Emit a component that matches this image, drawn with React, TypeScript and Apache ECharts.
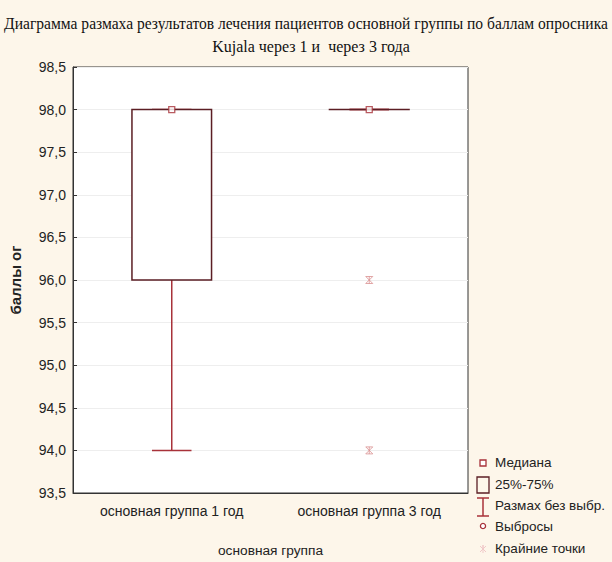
import React, { useEffect, useRef } from "react";
import * as echarts from "echarts";

const titleLines = [
  "Диаграмма размаха результатов лечения пациентов основной группы по баллам опросника",
  "Kujala через 1 и  через 3 года",
];
const categories = ["основная группа 1 год", "основная группа 3 год"];
const whiskerLow = [94, 98];
const quartile1 = [96, 98];
const medians = [98, 98];
const quartile3 = [98, 98];
const whiskerHigh = [98, 98];
// extreme points: [category index, value]
const extremes: [number, number][] = [
  [1, 96],
  [1, 94],
];
const outliers: [number, number][] = [];

const yMin = 93.5;
const yMax = 98.5;
const yStep = 0.5;

const BOX = "#5b1e24";
const WHISK = "#a8323a";
const EXTREME = "#d99090";
const BG = "#fdf6ea";
const FONT = "'Liberation Sans', Arial, sans-serif";
const SERIF = "'Liberation Serif', 'Times New Roman', serif";

const asterisk = "path://M0,0L10,10M10,0L0,10M5,0L5,10M0,0L10,0M0,10L10,10";

export default function App() {
  const ref = useRef<HTMLDivElement>(null);
  useEffect(() => {
    if (!ref.current) return;
    const chart = echarts.init(ref.current, undefined, { renderer: "svg" });
    const boxData = categories.map((_, i) => [
      i,
      whiskerLow[i],
      quartile1[i],
      medians[i],
      quartile3[i],
      whiskerHigh[i],
    ]);
    const medianData = categories.map((_, i) => [i, medians[i]]);

    const legendX = 483;
    const legendText = (y: number, text: string) => ({
      type: "text",
      left: 495,
      top: y - 8,
      style: { text, fontSize: 13.5, fontFamily: FONT, fill: "#222" },
    });

    chart.setOption({
      animation: false,
      backgroundColor: BG,
      grid: {
        left: 71,
        right: 144,
        top: 67,
        bottom: 63,
        show: true,
        backgroundColor: "#ffffff",
        borderColor: "#333",
        borderWidth: 1,
      },
      xAxis: {
        type: "category",
        data: categories,
        boundaryGap: true,
        name: "основная группа",
        nameLocation: "middle",
        nameGap: 50,
        nameTextStyle: { fontFamily: FONT, fontSize: 13.7, color: "#222" },
        axisLine: { lineStyle: { color: "#333" } },
        axisTick: { inside: true, alignWithLabel: true, length: 4, lineStyle: { color: "#333" } },
        axisLabel: { fontFamily: FONT, fontSize: 14, color: "#222", margin: 11 },
        splitLine: { show: false },
      },
      yAxis: {
        type: "value",
        min: yMin,
        max: yMax,
        interval: yStep,
        name: "баллы ог",
        nameLocation: "middle",
        nameGap: 50,
        nameTextStyle: { fontFamily: FONT, fontSize: 15, color: "#222", fontWeight: "bold" },
        axisLine: { show: true, lineStyle: { color: "#333" } },
        axisTick: { show: true, inside: true, length: 4, lineStyle: { color: "#333" } },
        axisLabel: {
          fontFamily: FONT,
          fontSize: 14,
          color: "#222",
          margin: 7,
          formatter: (v: number) => v.toFixed(1).replace(".", ","),
        },
        splitLine: { show: true, lineStyle: { color: "#eeeeee" } },
      },
      series: [
        {
          type: "custom",
          name: "box",
          data: boxData,
          encode: { x: 0, y: [1, 2, 3, 4, 5] },
          renderItem: (params: any, api: any) => {
            const i = api.value(0);
            const lo = api.coord([i, api.value(1)]);
            const q1 = api.coord([i, api.value(2)]);
            const q3 = api.coord([i, api.value(4)]);
            const hi = api.coord([i, api.value(5)]);
            const band = api.size([1, 0])[0];
            const boxW = band * 0.403;
            const capW = band * 0.2;
            const cx = lo[0];
            const wStyle = { stroke: WHISK, lineWidth: 1.5 };
            return {
              type: "group",
              children: [
                { type: "line", shape: { x1: cx, y1: q1[1], x2: cx, y2: lo[1] }, style: wStyle },
                { type: "line", shape: { x1: cx, y1: q3[1], x2: cx, y2: hi[1] }, style: wStyle },
                { type: "line", shape: { x1: cx - capW / 2, y1: lo[1], x2: cx + capW / 2, y2: lo[1] }, style: wStyle },
                { type: "line", shape: { x1: cx - capW / 2, y1: hi[1], x2: cx + capW / 2, y2: hi[1] }, style: wStyle },
                {
                  type: "rect",
                  shape: { x: cx - boxW / 2, y: q3[1], width: boxW, height: Math.max(q1[1] - q3[1], 0.01) },
                  style: { fill: q1[1] - q3[1] > 1 ? "#ffffff" : "none", stroke: BOX, lineWidth: 1.5 },
                },
              ],
            };
          },
        },
        {
          type: "scatter",
          name: "Медиана",
          data: medianData,
          symbol: "rect",
          symbolSize: 6,
          itemStyle: { color: "#ffffff", borderColor: WHISK, borderWidth: 1.3 },
          z: 5,
        },
        {
          type: "scatter",
          name: "Выбросы",
          data: outliers,
          symbol: "circle",
          symbolSize: 6,
          itemStyle: { color: "#ffffff", borderColor: WHISK, borderWidth: 1.3 },
        },
        {
          type: "scatter",
          name: "Крайние точки",
          data: extremes,
          symbol: asterisk,
          symbolSize: 7,
          itemStyle: { color: "transparent", borderColor: EXTREME, borderWidth: 1 },
          z: 5,
        },
      ],
      graphic: [
        {
          type: "text",
          x: 306,
          y: 23,
          scaleX: 0.955,
          style: {
            text: titleLines[0],
            fontFamily: SERIF,
            fontSize: 16.3,
            fill: "#111",
            textAlign: "center",
            textVerticalAlign: "middle",
          },
        },
        {
          type: "text",
          x: 311,
          y: 46,
          style: {
            text: titleLines[1],
            fontFamily: SERIF,
            fontSize: 16,
            fill: "#111",
            textAlign: "center",
            textVerticalAlign: "middle",
          },
        },
        {
          type: "rect",
          shape: { x: legendX - 3, y: 460, width: 6, height: 6 },
          style: { fill: "#fff", stroke: WHISK, lineWidth: 1.3 },
        },
        legendText(463, "Медиана"),
        {
          type: "rect",
          shape: { x: 477, y: 477, width: 12, height: 16 },
          style: { fill: "none", stroke: BOX, lineWidth: 1.3 },
        },
        legendText(485, "25%-75%"),
        { type: "line", shape: { x1: legendX, y1: 498, x2: legendX, y2: 516 }, style: { stroke: WHISK, lineWidth: 1.5 } },
        { type: "line", shape: { x1: 477, y1: 498, x2: 489, y2: 498 }, style: { stroke: WHISK, lineWidth: 1.5 } },
        { type: "line", shape: { x1: 477, y1: 516, x2: 489, y2: 516 }, style: { stroke: WHISK, lineWidth: 1.5 } },
        legendText(506, "Размах без выбр."),
        {
          type: "circle",
          shape: { cx: legendX, cy: 526, r: 2.6 },
          style: { fill: "#fff", stroke: WHISK, lineWidth: 1.3 },
        },
        legendText(527, "Выбросы"),
        {
          type: "polyline",
          shape: { points: [[480, 546], [486, 552], [483, 549], [480, 552], [486, 546], [483, 549], [483, 545], [483, 553]] },
          style: { stroke: "#f0c8c8", lineWidth: 1, fill: "none" },
        },
        legendText(549, "Крайние точки"),
      ],
    });
    return () => chart.dispose();
  }, []);
  return (
    <div
      ref={ref}
      style={{ position: "fixed", left: 0, top: 0, width: 612, height: 562 }}
    />
  );
}
